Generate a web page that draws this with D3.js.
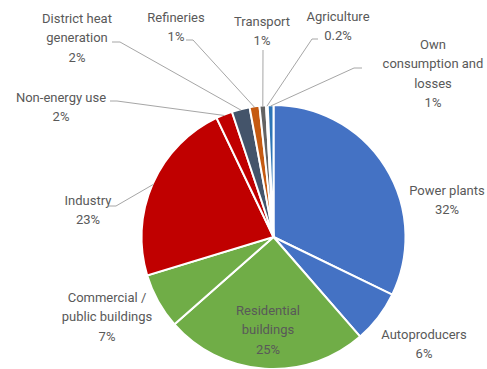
<!DOCTYPE html>
<html>
<head>
<meta charset="utf-8">
<script src="https://cdn.jsdelivr.net/npm/d3@7/dist/d3.min.js"></script>
<style>
  html, body { margin: 0; padding: 0; background: #fff; }
  svg text { font-family: Roboto, "Open Sans", sans-serif; font-size: 13px; fill: #595959; }
</style>
</head>
<body>
<svg id="chart" width="487" height="369"></svg>
<script>
// Final energy use by sector, share of total (%)
const categories = [
  "Power plants", "Autoproducers", "Residential\nbuildings", "Commercial /\npublic buildings",
  "Industry", "Non-energy use", "District heat\ngeneration", "Refineries",
  "Transport", "Agriculture", "Own\nconsumption and\nlosses"
];
const shares = [32.2, 6.4, 24.9, 6.8, 22.6, 2.0, 2.2, 1.2, 0.8, 0.2, 0.7];

const colors = [
  "#4472C4", "#4472C4", "#70AD47", "#70AD47", "#C00000", "#C00000",
  "#44546A", "#C55A11", "#636363", "#A5A5A5", "#2E75B6"
];

// label block centre (x, y of first line) and optional leader-line start
const labelLayout = [
  { x: 447, y: 190 },
  { x: 424, y: 334 },
  { x: 268, y: 310 },
  { x: 107, y: 297 },
  { x: 88,  y: 200, lead: [[108, 206], [116, 206]] },
  { x: 61,  y: 97,  lead: [[110, 101], [117, 101]] },
  { x: 77,  y: 18,  lead: [[112, 42], [120, 42]] },
  { x: 176, y: 17,  lead: [[186, 40], [193, 40]] },
  { x: 262, y: 21,  lead: [[263, 50]] },
  { x: 338, y: 16,  lead: [[318, 39], [312, 39]] },
  { x: 433, y: 44,  lead: [[362, 68], [354, 68]] }
];

const cx = 273.5, cy = 237, R = 132;
const lineH = 19.5;

const svg = d3.select("#chart");
const total = d3.sum(shares);
const data = categories.map((c, i) => ({ name: c, value: shares[i], i }));

const pie = d3.pie().value(d => d.value).sort(null);
const arcs = pie(data);
const arc = d3.arc().innerRadius(0).outerRadius(R);

const g = svg.append("g").attr("transform", `translate(${cx},${cy})`);

g.selectAll("path.slice")
  .data(arcs)
  .join("path")
  .attr("class", "slice")
  .attr("d", arc)
  .attr("fill", d => colors[d.data.i])
  .attr("stroke", "#fff")
  .attr("stroke-width", 2)
  .attr("stroke-linejoin", "miter");

const fmtPct = v => {
  const p = v / total * 100;
  return p >= 0.5 ? Math.round(p) + "%" : p.toFixed(1) + "%";
};

// leader lines from label to slice edge at mid-angle
const leaders = svg.append("g");
arcs.forEach(d => {
  const L = labelLayout[d.data.i];
  if (!L.lead) return;
  const mid = (d.startAngle + d.endAngle) / 2;
  const end = [cx + (R - 1) * Math.sin(mid), cy - (R - 1) * Math.cos(mid)];
  const pts = L.lead.concat([end]);
  leaders.append("path")
    .attr("d", d3.line()(pts))
    .attr("fill", "none")
    .attr("stroke", "#A6A6A6")
    .attr("stroke-width", 1);
});

// labels
const labels = svg.append("g");
arcs.forEach(d => {
  const L = labelLayout[d.data.i];
  const lines = d.data.name.split("\n").concat([fmtPct(d.data.value)]);
  const t = labels.append("text")
    .attr("text-anchor", "middle");
  lines.forEach((ln, k) => {
    t.append("tspan")
      .attr("x", L.x)
      .attr("y", L.y + k * lineH)
      .attr("dy", "0.35em")
      .text(ln);
  });
});
</script>
</body>
</html>
